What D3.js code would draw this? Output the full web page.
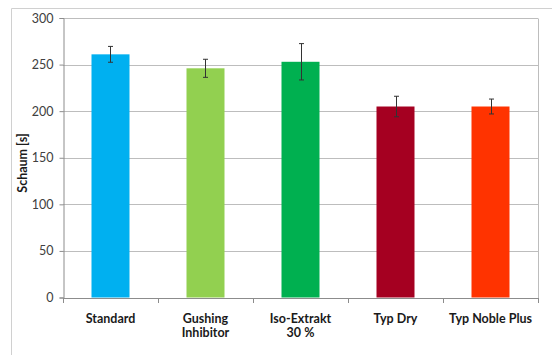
<!DOCTYPE html>
<html>
<head>
<meta charset="utf-8">
<script src="https://cdn.jsdelivr.net/npm/d3@7"></script>
<style>
  html, body { margin: 0; padding: 0; background: #fff; }
  svg { display: block; }
</style>
</head>
<body>
<svg id="chart" width="552" height="355"></svg>
<script>
// Foam stability per hop product
const categories = [["Standard"], ["Gushing", "Inhibitor"], ["Iso-Extrakt", "30 %"], ["Typ Dry"], ["Typ Noble Plus"]];
const values = [261, 246, 253, 205, 205];
const errors = [8.5, 9.7, 19.5, 11, 8];
const colors = ["#00B0F0", "#92D050", "#00B050", "#A50021", "#FF3300"];
const yTicks = [0, 50, 100, 150, 200, 250, 300];
const yTitle = "Schaum [s]";

const svg = d3.select("#chart");
const font = "Lato, 'Open Sans', sans-serif";

const plot = { left: 63, right: 538, top: 18, bottom: 297.5 };

const x = d3.scaleBand()
  .domain(d3.range(categories.length))
  .range([plot.left, plot.right])
  .paddingInner(0.6)
  .paddingOuter(0.3);

const y = d3.scaleLinear().domain([0, 300]).range([plot.bottom, plot.top]);

// outer chart frame (top and left edges)
svg.append("path")
  .attr("d", `M11.5,355 V8.5 H552`)
  .attr("fill", "none")
  .attr("stroke", "#d0d0d0")
  .attr("stroke-width", 1);

// horizontal gridlines
svg.append("g")
  .selectAll("line")
  .data(yTicks.filter(t => t > 0))
  .join("line")
  .attr("x1", plot.left)
  .attr("x2", plot.right)
  .attr("y1", d => Math.round(y(d)) + 0.5)
  .attr("y2", d => Math.round(y(d)) + 0.5)
  .attr("stroke", "#bdbdbd");

// right plot-area edge
svg.append("line")
  .attr("x1", plot.right + 0.5).attr("x2", plot.right + 0.5)
  .attr("y1", Math.round(y(300)) + 0.5).attr("y2", plot.bottom + 4)
  .attr("stroke", "#bdbdbd");

// y axis
const yAxis = d3.axisLeft(y).tickValues(yTicks).tickSize(4).tickPadding(6);
const gy = svg.append("g")
  .attr("transform", `translate(${plot.left + 0.5},0)`)
  .call(yAxis);
gy.select(".domain").attr("stroke", "#8c8c8c");
gy.selectAll(".tick line").attr("stroke", "#8c8c8c");
gy.selectAll(".tick text")
  .attr("font-family", font)
  .attr("font-size", 12.5)
  .attr("fill", "#404040");

// bars
svg.append("g")
  .selectAll("rect")
  .data(values)
  .join("rect")
  .attr("x", (d, i) => x(i))
  .attr("width", x.bandwidth())
  .attr("y", d => y(d))
  .attr("height", d => y(0) - y(d))
  .attr("fill", (d, i) => colors[i]);

// error bars
const eb = svg.append("g").attr("stroke", "#333").attr("stroke-width", 1);
values.forEach((v, i) => {
  const cx = Math.round(x(i) + x.bandwidth() / 2) + 0.5;
  const y1 = y(v + errors[i]), y2 = y(v - errors[i]);
  eb.append("line").attr("x1", cx).attr("x2", cx).attr("y1", y1).attr("y2", y2);
  eb.append("line").attr("x1", cx - 2.5).attr("x2", cx + 2.5).attr("y1", y1).attr("y2", y1);
  eb.append("line").attr("x1", cx - 2.5).attr("x2", cx + 2.5).attr("y1", y2).attr("y2", y2);
});

// x axis line with category boundary ticks
const step = (plot.right - plot.left) / categories.length;
const gx = svg.append("g");
gx.append("line")
  .attr("x1", plot.left).attr("x2", plot.right + 1)
  .attr("y1", Math.round(plot.bottom) + 0.5).attr("y2", Math.round(plot.bottom) + 0.5)
  .attr("stroke", "#8c8c8c");
gx.selectAll(".bt")
  .data(d3.range(categories.length + 1))
  .join("line")
  .attr("class", "bt")
  .attr("x1", d => Math.round(plot.left + d * step) + 0.5)
  .attr("x2", d => Math.round(plot.left + d * step) + 0.5)
  .attr("y1", Math.round(plot.bottom))
  .attr("y2", Math.round(plot.bottom) + 5)
  .attr("stroke", "#8c8c8c");

// category labels
const labels = svg.append("g")
  .attr("font-family", font)
  .attr("font-size", 12.5)
  .attr("font-weight", "bold")
  .attr("fill", "#1a1a1a")
  .attr("text-anchor", "middle");
categories.forEach((lines, i) => {
  const t = labels.append("text")
    .attr("x", x(i) + x.bandwidth() / 2)
    .attr("y", 323);
  lines.forEach((ln, j) => {
    t.append("tspan")
      .attr("x", x(i) + x.bandwidth() / 2)
      .attr("dy", j === 0 ? 0 : 14)
      .text(ln);
  });
});

// y axis title
svg.append("text")
  .attr("transform", `translate(27,163) rotate(-90)`)
  .attr("text-anchor", "middle")
  .attr("font-family", font)
  .attr("font-size", 12.5)
  .attr("font-weight", "bold")
  .attr("fill", "#1a1a1a")
  .text(yTitle);
</script>
</body>
</html>
